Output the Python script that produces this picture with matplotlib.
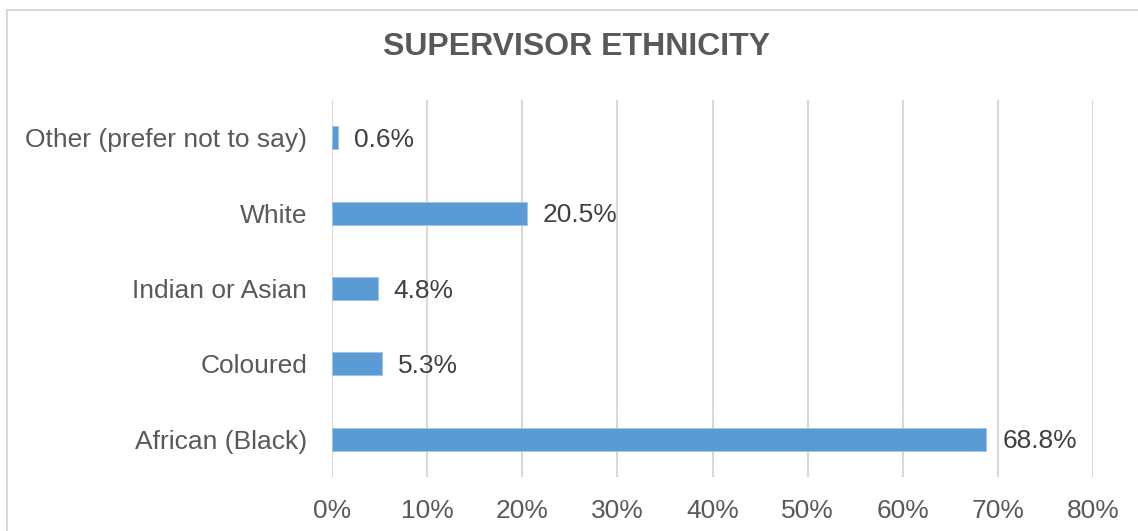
import matplotlib.pyplot as plt
from matplotlib.patches import Rectangle
from matplotlib.ticker import FuncFormatter

categories = ["African (Black)", "Coloured", "Indian or Asian", "White", "Other (prefer not to say)"]
shares = [68.8, 5.3, 4.8, 20.5, 0.6]
xticks = [0, 10, 20, 30, 40, 50, 60, 70, 80]

plt.rcParams['font.family'] = ['Liberation Sans', 'DejaVu Sans']
text_col = '#595959'
bar_col = '#5B9BD5'
grid_col = '#D9D9D9'

fig = plt.figure(figsize=(11.38, 5.31), dpi=100)
ax = fig.add_axes([332 / 1138, 1 - 477 / 531, (1093 - 332) / 1138, (477 - 100) / 531])

# light frame around the chart area, open at right and bottom
fig.patches.append(Rectangle((7 / 1138, -0.1), 1.2, 1 - 9.5 / 531 + 0.1,
                             transform=fig.transFigure, fill=False,
                             edgecolor='#D9D9D9', linewidth=1.5))

ypos = range(len(categories))
ax.barh(ypos, shares, height=0.305, color=bar_col, edgecolor='#9DC3E6', linewidth=0.6, zorder=3)

for y, v in zip(ypos, shares):
    ax.annotate(f"{v:.1f}%", (v, y), xytext=(11.5, -1.5), textcoords='offset points',
                ha='left', va='center', fontsize=19, color='#404040')

ax.set_xlim(0, 80)
ax.set_ylim(-0.5, len(categories) - 0.5)
ax.set_xticks(xticks)
ax.xaxis.set_major_formatter(FuncFormatter(lambda v, p: f"{v:.0f}%"))
ax.set_yticks(list(ypos))
ax.set_yticklabels(categories)
ax.tick_params(axis='both', length=0, labelsize=19, labelcolor=text_col)
ax.tick_params(axis='y', pad=18)
ax.tick_params(axis='x', pad=16)
ax.grid(axis='x', color=grid_col, linewidth=1.5, zorder=0)
for s in ax.spines.values():
    s.set_visible(False)

fig.text(577 / 1138, 1 - 47 / 531, "SUPERVISOR ETHNICITY", ha='center', va='center',
         fontsize=23, fontweight='bold', color=text_col)

fig.savefig("out.png", dpi=100)
plt.close(fig)
